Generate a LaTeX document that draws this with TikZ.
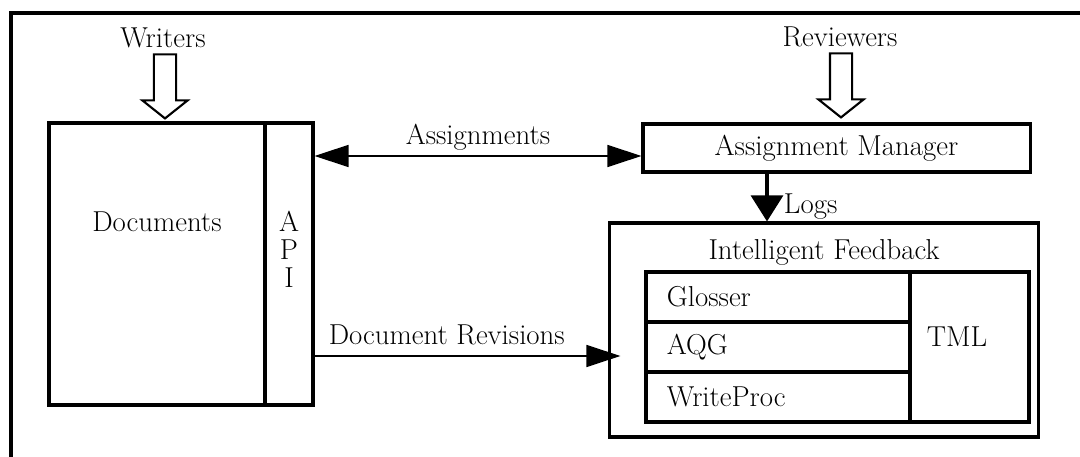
\documentclass[tikz,border=0pt]{standalone}
\usetikzlibrary{arrows.meta,positioning,shapes.arrows}
\tikzset{
  box/.style={
    draw,
    line width=2.2pt,
    inner sep=0pt
  },
  txt/.style={
    font=\fontsize{20.5}{24}\selectfont,
    inner sep=1pt
  },
  cell/.style={
    box,
    font=\fontsize{20.5}{24}\selectfont,
    minimum width=6.6cm,
    minimum height=1.25cm,
    text width=5.55cm,
    inner xsep=0.525cm,
    align=left
  },
  hollow/.style={
    single arrow,
    draw,
    line width=1.5pt,
    rotate=-90,
    minimum height=1.6cm,
    inner xsep=0pt,
    inner ysep=0.25cm,
    single arrow head extend=0.29cm,
    single arrow tip angle=103
  },
  flow/.style={
    line width=1.2pt
  },
  bigtip/.style={
    -{Triangle[length=0.85cm,width=0.55cm]}
  },
  twotip/.style={
    {Triangle[length=0.85cm,width=0.55cm]}-{Triangle[length=0.85cm,width=0.55cm]}
  }
}

\begin{document}
\begin{tikzpicture}[x=0.025cm, y=-0.025cm]
    \useasboundingbox (0,0) rectangle (1080,457);
    \draw[line width=2.2pt] (11,460) -- (11,13) -- (1083,13);

    % left side
    \node[box, minimum width=5.4cm, minimum height=7.05cm] (docs) at (157,264) {};
    \node[box, minimum width=1.2cm, minimum height=7.05cm] (api) at (289,264) {};
    \node[txt] (doctext) at (157,222) {Documents};
    \node[txt] (apiA) at (289,221) {A};
    \node[txt] (apiP) at (289,250) {P};
    \node[txt] (apiI) at (289,278) {I};

    \node[txt] (writers) at (163,38) {Writers};
    \node[hollow] (warr) at (165,82) {};

    % right side
    \node[box, txt, inner sep=0pt, minimum width=9.675cm, minimum height=1.2cm] (mgr) at (836.5,148) {Assignment Manager};
    \node[txt] (reviewers) at (840,37) {Reviewers};
    \node[hollow] (rarr) at (841,81) {};

    \node[box, minimum width=10.7cm, minimum height=5.35cm] (fb) at (824,330) {};
    \node[txt] (fbtext) at (824,252) {Intelligent Feedback};
    \node[cell] (glosser) at (778,297) {Glosser};
    \node[cell] (aqg) at (778,347) {AQG};
    \node[cell] (wproc) at (778,397) {WriteProc};
    \node[box, minimum width=2.975cm, minimum height=3.75cm] (tml) at (969.5,347) {};
    \node[txt] (tmltext) at (957,337) {TML};

    % connectors
    \coordinate (asgn) at (0,156);
    \coordinate (revs) at (0,356);
    \coordinate (logx) at (767,0);
    \draw[flow, twotip] (api.east |- asgn) -- (mgr.west |- asgn)
        node[txt, midway, above=2.5pt] (asgntext) {Assignments};
    \draw[flow, bigtip, shorten >=-12*0.025cm] (api.east |- revs) -- (fb.west |- revs)
        node[txt, pos=0.45, above=6pt] (revtext) {Document Revisions};
    \draw[line width=2.2pt, -{Triangle[length=0.65cm,width=0.8cm]}] (logx |- mgr.south) -- (logx |- fb.north)
        node[txt, pos=0.7, right=0.35cm] (logtext) {Logs};
\end{tikzpicture}
\end{document}
